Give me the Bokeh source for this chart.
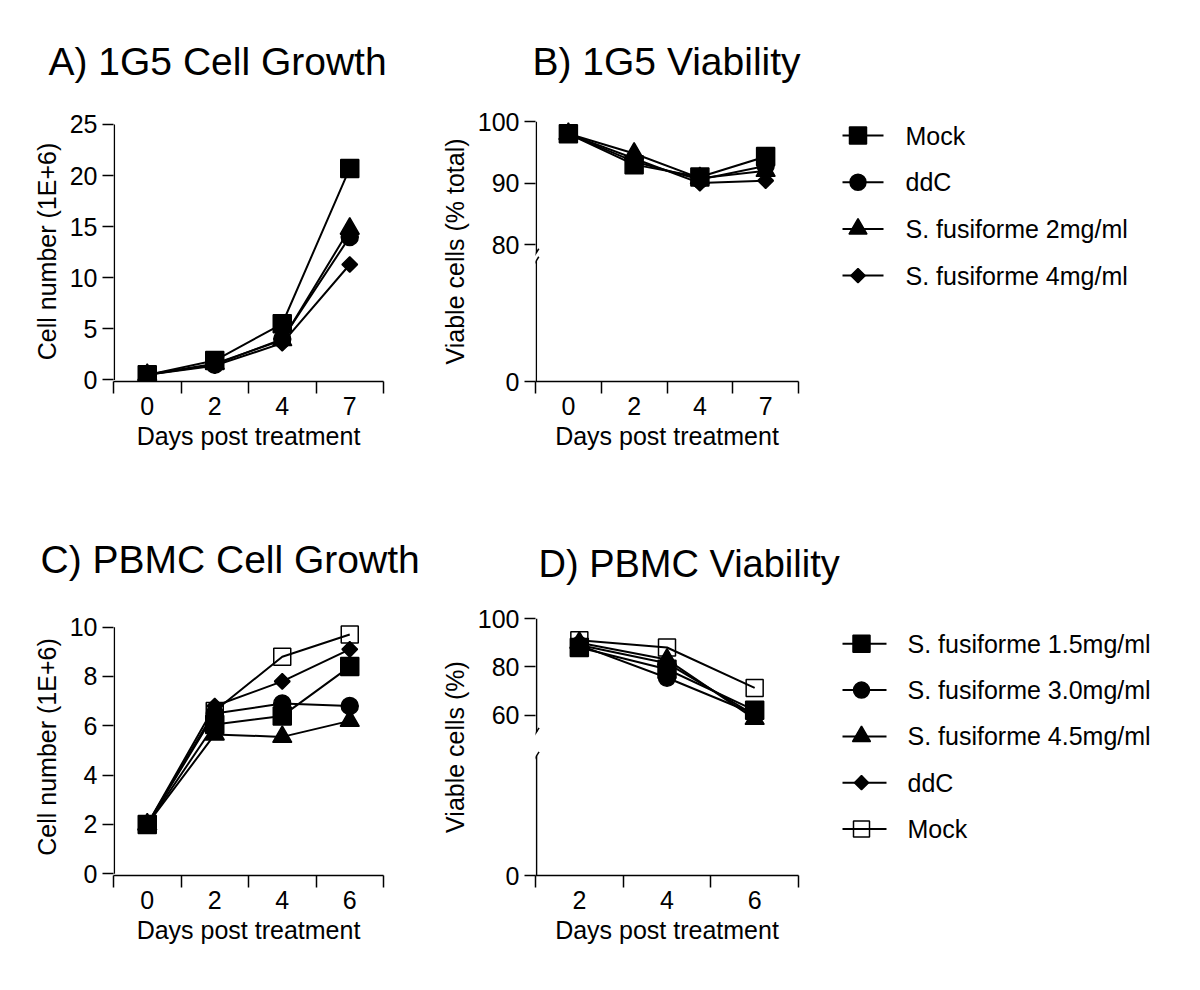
import math
from bokeh.plotting import figure
from bokeh.models import Range1d, FixedTicker, Arrow, Title
from bokeh.layouts import row, column
from bokeh.embed import file_html
from bokeh.resources import INLINE
from bokeh.core.properties import value

FONT = "Liberation Sans"

# ---------------- data ----------------
# A) 1G5 cell growth (cell number, 1E+6)
a_days = ["0", "2", "4", "7"]
a_mock = [0.5, 1.9, 5.5, 20.7]
a_ddc = [0.5, 1.5, 4.0, 14.0]
a_sf2 = [0.5, 1.6, 3.9, 14.8]
a_sf4 = [0.5, 1.4, 3.6, 11.3]
a_yticks = [0, 5, 10, 15, 20, 25]

# B) 1G5 viability (% total)
b_days = ["0", "2", "4", "7"]
b_mock = [98.0, 93.0, 91.0, 94.3]
b_ddc = [98.0, 93.5, 90.6, 92.8]
b_sf2 = [98.0, 94.8, 90.8, 92.0]
b_sf4 = [98.0, 94.0, 90.0, 90.4]
b_ytick_labels = ["0", "80", "90", "100"]

# C) PBMC cell growth (cell number, 1E+6)
c_days = ["0", "2", "4", "6"]
c_sf15 = [2.0, 6.05, 6.4, 8.4]
c_sf30 = [2.0, 6.5, 6.9, 6.8]
c_sf45 = [2.0, 5.65, 5.55, 6.2]
c_ddc = [2.0, 6.8, 7.8, 9.1]
c_mock = [2.0, 6.6, 8.8, 9.7]
c_yticks = [0, 2, 4, 6, 8, 10]

# D) PBMC viability (%)
d_days = ["2", "4", "6"]
d_sf15 = [88.0, 79.0, 62.0]
d_sf30 = [89.0, 75.5, 60.5]
d_sf45 = [90.0, 83.0, 58.5]
d_ddc = [89.0, 81.5, 60.0]
d_mock = [91.0, 88.0, 71.3]
d_ytick_labels = ["0", "60", "80", "100"]

top_names = ["Mock", "ddC", "S. fusiforme 2mg/ml", "S. fusiforme 4mg/ml"]
top_markers = ["square", "circle", "triangle", "diamond"]
bottom_names = ["S. fusiforme 1.5mg/ml", "S. fusiforme 3.0mg/ml",
                "S. fusiforme 4.5mg/ml", "ddC", "Mock"]
bottom_markers = ["square", "circle", "triangle", "diamond", "open_square"]

# broken-axis: display position used for the "0" of the compressed lower part
B_ZERO = 57.8
D_ZERO = -6.3
Y_AXIS_X = 0.512  # x (data units) where the drawn y-axis line sits

MARKERS = {
    "square": dict(marker="square", size=18, angle=0.0, fill_color="black"),
    "circle": dict(marker="circle", size=17, angle=0.0, fill_color="black"),
    "triangle": dict(marker="triangle", size=19, angle=0.0, fill_color="black"),
    "diamond": dict(marker="square", size=11, angle=math.pi / 4, fill_color="black"),
    "open_square": dict(marker="square", size=17, angle=0.0, fill_color=None),
}


def style_axes(p):
    for ax in (p.xaxis[0], p.yaxis[0]):
        ax.axis_line_width = 1.5
        ax.axis_line_color = "black"
        ax.major_label_text_font = FONT
        ax.major_label_text_font_size = "25px"
        ax.major_label_text_color = "black"
        ax.axis_label_text_font = FONT
        ax.axis_label_text_font_size = "25px"
        ax.axis_label_text_font_style = "normal"
        ax.axis_label_text_color = "black"
        ax.major_tick_line_width = 1.5
        ax.major_tick_line_color = "black"
        ax.minor_tick_line_width = 1.5
        ax.minor_tick_line_color = "black"


def vline(p, x, y0, y1):
    p.add_layout(Arrow(end=None, x_start=x, y_start=y0, x_end=x, y_end=y1,
                       line_color="black", line_width=1.5))


def panel(days, series, yticks, ylabels, y0, y1, width, height, mb, ylabel,
          title, title_offset, title_standoff, title_size="39px"):
    n = len(days)
    xs = list(range(1, n + 1))
    p = figure(width=width, height=height,
               x_range=Range1d(0.5, n + 0.5), y_range=Range1d(y0, y1),
               output_backend="svg", toolbar_location=None,
               min_border_left=mb[0], min_border_right=mb[1],
               min_border_top=mb[2], min_border_bottom=mb[3])
    p.outline_line_color = None
    p.grid.visible = False
    p.background_fill_color = "white"
    p.border_fill_color = "white"
    p.title = Title(text=title, align="left", offset=title_offset, standoff=title_standoff,
                    vertical_align="middle", text_font=FONT, text_font_size=title_size,
                    text_font_style="normal", text_color="black")

    for vals, mk in series:
        p.line(xs, vals, line_color="black", line_width=2)
    for vals, mk in series:
        st = MARKERS[mk]
        p.scatter(xs, vals, marker=st["marker"], size=st["size"], angle=st["angle"],
                  fill_color=st["fill_color"], line_color="black", line_width=1.5)

    style_axes(p)
    # x axis: category labels centred, tick marks on the category boundaries
    p.xaxis.ticker = FixedTicker(ticks=xs, minor_ticks=[i + 0.5 for i in range(n + 1)])
    p.xaxis.major_label_overrides = {x: d for x, d in zip(xs, days)}
    p.xaxis.major_tick_out = 0
    p.xaxis.major_tick_in = 0
    p.xaxis.minor_tick_out = 12
    p.xaxis.minor_tick_in = 0
    p.xaxis.major_label_standoff = 3
    p.xaxis.axis_label = "Days post treatment"
    p.xaxis.axis_label_standoff = 4

    p.yaxis.ticker = FixedTicker(ticks=yticks, minor_ticks=[])
    p.yaxis.major_label_overrides = {t: l for t, l in zip(yticks, ylabels)}
    p.yaxis.major_tick_out = 11
    p.yaxis.major_tick_in = 0
    p.yaxis.minor_tick_out = 0
    p.yaxis.minor_tick_in = 0
    p.yaxis.major_label_standoff = 5
    p.yaxis.axis_label = ylabel
    p.yaxis.axis_label_standoff = 6
    # y axis line drawn separately so that it stops at the top tick
    p.yaxis.axis_line_color = None
    return p


def add_axis_line(p, y_bottom, y_top, brk=None, px_x=66.0, px_y=1.0):
    x = Y_AXIS_X
    if brk is None:
        vline(p, x, y_bottom, y_top)
        return
    lo, hi = brk
    vline(p, x, y_bottom, lo)
    vline(p, x, hi, y_top)
    dx = 2.5 / px_x
    dy = 4.0 / px_y
    for c in (lo, hi):
        p.add_layout(Arrow(end=None, x_start=x - dx, y_start=c - dy, x_end=x + dx, y_end=c + dy,
                           line_color="black", line_width=1.5))


def legend_fig(names, markers, width, height, borders, xr, yr, y_first, pitch, x0, x1, xm, xt):
    L = figure(width=width, height=height, x_range=Range1d(*xr),
               y_range=Range1d(*yr), x_axis_type=None, y_axis_type=None,
               output_backend="svg", toolbar_location=None,
               min_border_left=0, min_border_right=0,
               min_border_top=borders[0], min_border_bottom=borders[1])
    L.outline_line_color = None
    L.grid.visible = False
    for i, (name, mk) in enumerate(zip(names, markers)):
        y = y_first + i * pitch
        L.segment(x0=[x0], y0=[y], x1=[x1], y1=[y], line_color="black", line_width=2)
        st = MARKERS[mk]
        L.scatter([xm], [y], marker=st["marker"], size=st["size"] - 1, angle=st["angle"],
                  fill_color=st["fill_color"], line_color="black", line_width=1.5)
        L.text([xt], [y], text=[name], text_font=value(FONT), text_font_size="25px",
               text_baseline="middle", text_align="left", text_color="black")
    return L


# ---------------- panels ----------------
pA = panel(a_days, [(a_mock, "square"), (a_ddc, "circle"), (a_sf2, "triangle"), (a_sf4, "diamond")],
           a_yticks, [str(t) for t in a_yticks], -0.15, 25.29, 420, 490, (113, 37, 121, 109),
           "Cell number (1E+6)", "A)  1G5 Cell Growth", -65, 75)
add_axis_line(pA, 0, 25)

b_ticks = [B_ZERO, 80, 90, 100]
pB = panel(b_days, [(b_mock, "square"), (b_ddc, "circle"), (b_sf2, "triangle"), (b_sf4, "diamond")],
           b_ticks, b_ytick_labels, B_ZERO, 100, 422, 490, (115, 44, 121, 109),
           "Viable cells (% total)", "B)  1G5 Viability", -3, 75)
add_axis_line(pB, B_ZERO, 100, brk=(77.4, 78.7), px_x=66.0, px_y=6.165)

pC = panel(c_days, [(c_sf15, "square"), (c_sf30, "circle"), (c_sf45, "triangle"),
                    (c_ddc, "diamond"), (c_mock, "open_square")],
           c_yticks, [str(t) for t in c_yticks], -0.07, 10.35, 420, 490, (113, 37, 128, 105),
           "Cell number (1E+6)", "C)  PBMC Cell Growth", -73, 73)
add_axis_line(pC, 0, 10)

d_ticks = [D_ZERO, 60, 80, 100]
pD = panel(d_days, [(d_sf15, "square"), (d_sf30, "circle"), (d_sf45, "triangle"),
                    (d_ddc, "diamond"), (d_mock, "open_square")],
           d_ticks, d_ytick_labels, D_ZERO, 100, 422, 490, (115, 44, 128, 105),
           "Viable cells (%)", "D)  PBMC Viability", 3, 65, title_size="38px")
add_axis_line(pD, D_ZERO, 100, brk=(43.2, 53.1), px_x=87.7, px_y=2.4175)

LB = legend_fig(top_names, top_markers, 354, 490, (121, 109), (842, 1196), (381, 121),
                135, 46.7, 833, 883, 857.5, 905)
LD = legend_fig(bottom_names, bottom_markers, 354, 490, (128, 105), (842, 1196), (875, 618),
                643.3, 46.3, 836, 886, 861, 907)

layout = column(row(pA, pB, LB), row(pC, pD, LD))
open("out.html", "w").write(file_html(layout, INLINE))
